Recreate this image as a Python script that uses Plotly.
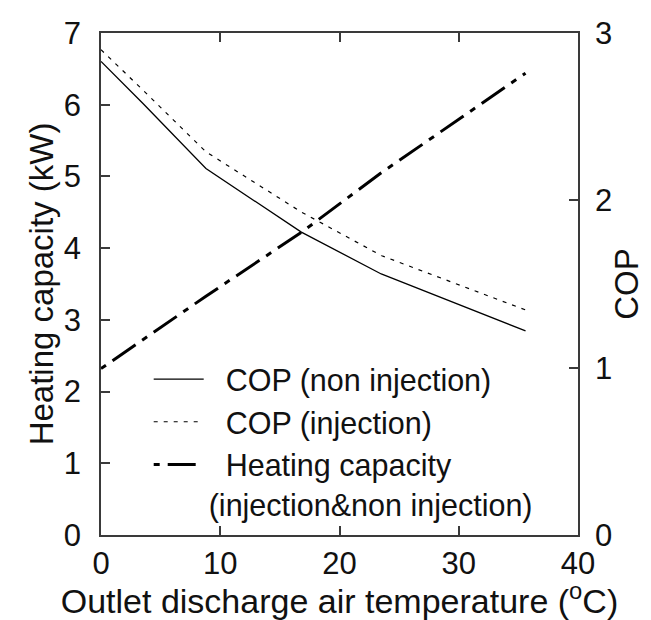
import plotly.graph_objects as go

# Outlet discharge air temperature (°C)
temperature = [0, 3.5, 8.8, 16.8, 23.5, 35.6]
# COP without vapour injection
cop_non_injection = [2.83, 2.58, 2.19, 1.81, 1.56, 1.22]
# COP with vapour injection
cop_injection = [2.90, 2.66, 2.29, 1.93, 1.67, 1.345]
# Heating capacity (kW), identical for both modes
heating_capacity = [2.32, 2.72, 3.33, 4.22, 5.05, 6.44]

x_ticks = [0, 10, 20, 30, 40]
y_ticks = [0, 1, 2, 3, 4, 5, 6, 7]
y2_ticks = [0, 1, 2, 3]

FONT = "Liberation Sans, Arial, sans-serif"
AXIS_COLOR = "#3a3a3a"
NB = "\u00a0"

fig = go.Figure()

fig.add_trace(go.Scatter(
    x=temperature, y=cop_non_injection, yaxis="y2", mode="lines",
    name=NB * 2 + "COP (non injection)",
    line=dict(color="black", width=1.3),
))
fig.add_trace(go.Scatter(
    x=temperature, y=cop_injection, yaxis="y2", mode="lines",
    name=NB * 2 + "COP (injection)",
    line=dict(color="black", width=1.2, dash="4px,6px"),
))
fig.add_trace(go.Scatter(
    x=temperature, y=heating_capacity, yaxis="y", mode="lines",
    name=NB * 2 + "Heating capacity<br>(injection&non injection)",
    line=dict(color="black", width=3, dash="6px,8px,28px,8px"),
))

fig.update_layout(
    width=651, height=620,
    margin=dict(l=101, r=70, t=33, b=83),
    paper_bgcolor="white", plot_bgcolor="white",
    font=dict(family=FONT, size=31, color="#111"),
    showlegend=True,
    legend=dict(
        x=0.10, y=0.363, xanchor="left", yanchor="top",
        bgcolor="rgba(0,0,0,0)", borderwidth=0,
        font=dict(family=FONT, size=30.5, color="#111"),
        valign="top", tracegroupgap=0, itemwidth=50,
    ),
    xaxis=dict(
        range=[0, 40], tickvals=x_ticks, ticktext=[str(v) for v in x_ticks],
        showline=True, linecolor=AXIS_COLOR, linewidth=1.5, mirror="ticks",
        ticks="inside", ticklen=9, tickcolor=AXIS_COLOR, tickwidth=1.5,
        showgrid=False, zeroline=False,
        title=dict(text="Outlet discharge air temperature (<sup>o</sup>C)",
                   font=dict(size=34), standoff=3),
    ),
    yaxis=dict(
        range=[0, 7], tickvals=y_ticks, ticktext=[str(v) for v in y_ticks],
        showline=True, linecolor=AXIS_COLOR, linewidth=1.5,
        ticks="inside", ticklen=9, tickcolor=AXIS_COLOR, tickwidth=1.5,
        ticklabelstandoff=12,
        showgrid=False, zeroline=False,
        title=dict(text="Heating capacity (kW)", font=dict(size=33), standoff=0),
    ),
    yaxis2=dict(
        range=[0, 3], tickvals=y2_ticks, ticktext=[str(v) for v in y2_ticks],
        overlaying="y", side="right",
        showline=True, linecolor=AXIS_COLOR, linewidth=1.5,
        ticks="inside", ticklen=9, tickcolor=AXIS_COLOR, tickwidth=1.5,
        ticklabelstandoff=9,
        showgrid=False, zeroline=False,
        title=dict(text="COP", font=dict(size=33), standoff=4),
    ),
)

fig.write_html("out.html")
